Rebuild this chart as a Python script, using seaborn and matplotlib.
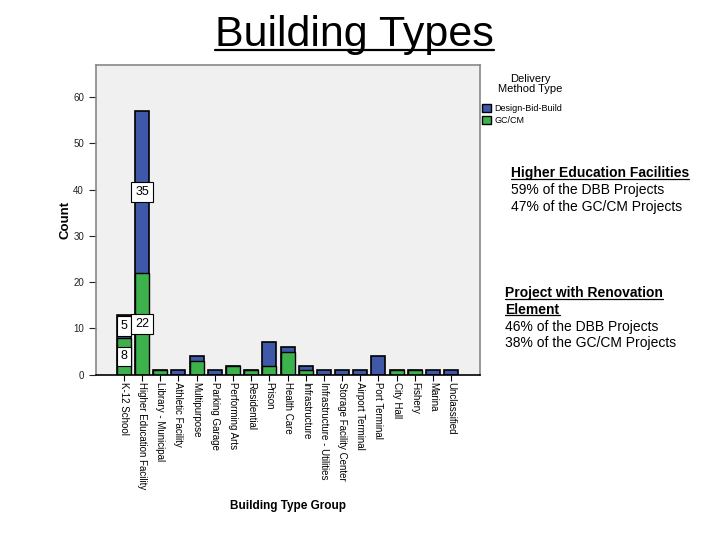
import pandas as pd
import matplotlib
matplotlib.use('Agg')
import matplotlib.pyplot as plt
import seaborn as sns
from matplotlib.lines import Line2D
from matplotlib.patches import Patch

# Data
building_types = ['K-12 School', 'Higher Education Facility', 'Library - Municipal',
                  'Athletic Facility', 'Multipurpose', 'Parking Garage', 'Performing Arts',
                  'Residential', 'Prison', 'Health Care', 'Infrastructure',
                  'Infrastructure - Utilities', 'Storage Facility Center', 'Airport Terminal',
                  'Port Terminal', 'City Hall', 'Fishery', 'Marina', 'Unclassified']
gccm = [8, 22, 1, 0, 3, 0, 2, 1, 2, 5, 1, 0, 0, 0, 0, 1, 1, 0, 0]
dbb = [5, 35, 0, 1, 1, 1, 0, 0, 5, 1, 1, 1, 1, 1, 4, 0, 0, 1, 1]
labelled = ['K-12 School', 'Higher Education Facility']

blue = '#3f58a8'
green = '#3db14c'

sns.set_style('white')
plt.rcParams['font.family'] = ['Liberation Sans', 'DejaVu Sans']
plt.rcParams['text.color'] = 'black'
plt.rcParams['axes.labelcolor'] = 'black'
plt.rcParams['xtick.color'] = 'black'
plt.rcParams['ytick.color'] = 'black'

df = pd.DataFrame({'Building Type Group': building_types, 'GC/CM': gccm, 'DBB': dbb})
df['Total'] = df['GC/CM'] + df['DBB']

fig = plt.figure(figsize=(7.2, 5.4), dpi=100)
ax = fig.add_axes([0.133, 0.306, 0.534, 0.574])
ax.set_facecolor('#f0f0f0')

# stacked look: total in blue, GC/CM in green drawn on top
sns.barplot(data=df, x='Building Type Group', y='Total', order=building_types,
            color=blue, saturation=1, width=0.77, edgecolor='black', linewidth=1.2, ax=ax)
sns.barplot(data=df[df['GC/CM'] > 0], x='Building Type Group', y='GC/CM', order=building_types,
            color=green, saturation=1, width=0.77, edgecolor='black', linewidth=1.0, ax=ax)

# value boxes
for name in labelled:
    i = building_types.index(name)
    g = df.loc[i, 'GC/CM']
    d = df.loc[i, 'DBB']
    box = dict(boxstyle='square,pad=0.3', fc='white', ec='black', lw=0.8)
    ax.text(i, g / 2, str(g), ha='center', va='center', fontsize=9, bbox=box)
    ax.text(i, g + d / 2, str(d), ha='center', va='center', fontsize=9, bbox=box)

ax.set_xlim(-1.55, len(building_types) + 0.6)
ax.set_ylim(0, 67)
ax.set_yticks(range(0, 61, 10))
ax.tick_params(axis='y', labelsize=7, length=5, direction='out', left=True, colors='#222222')
ax.tick_params(axis='x', labelsize=7, length=4, direction='out', bottom=True, pad=1)
ax.set_xticks(range(len(building_types)))
ax.set_xticklabels(building_types, rotation=-90, va='top', ha='center')
ax.set_xlabel('Building Type Group', fontsize=8.5, fontweight='bold', labelpad=8)
ax.set_ylabel('Count', fontsize=9.5, fontweight='bold', labelpad=1)
for s in ax.spines.values():
    s.set_color('#888888')
    s.set_linewidth(1.2)
ax.spines['bottom'].set_color('black')

handles = [Patch(facecolor=blue, edgecolor='black', label='Design-Bid-Build'),
           Patch(facecolor=green, edgecolor='black', label='GC/CM')]
fig.text(0.737, 0.845, 'Delivery\nMethod Type', ha='center', va='center', fontsize=8,
         multialignment='center', linespacing=1.0)
fig.legend(handles=handles, loc='upper left', bbox_to_anchor=(0.665, 0.815),
           frameon=False, fontsize=6.5, handlelength=1.0, handleheight=1.0,
           handletextpad=0.3, borderaxespad=0, labelspacing=0.35)

title = fig.text(0.492, 0.935, 'Building Types', ha='center', va='center', fontsize=31)

fs = 10
h1 = fig.text(0.71, 0.679, 'Higher Education Facilities', fontsize=fs, fontweight='bold',
              va='center')
fig.text(0.71, 0.648, '59% of the DBB Projects', fontsize=fs, va='center')
fig.text(0.71, 0.617, '47% of the GC/CM Projects', fontsize=fs, va='center')
h2a = fig.text(0.702, 0.457, 'Project with Renovation', fontsize=fs, fontweight='bold',
               va='center')
h2b = fig.text(0.702, 0.426, 'Element', fontsize=fs, fontweight='bold', va='center')
fig.text(0.702, 0.395, '46% of the DBB Projects', fontsize=fs, va='center')
fig.text(0.702, 0.364, '38% of the GC/CM Projects', fontsize=fs, va='center')

# underline title and headings
fig.canvas.draw()
renderer = fig.canvas.get_renderer()
for t, lw in [(title, 1.6), (h1, 0.9), (h2a, 0.9), (h2b, 0.9)]:
    bb = t.get_window_extent(renderer).transformed(fig.transFigure.inverted())
    y = bb.y0 + (bb.y1 - bb.y0) * 0.12
    fig.add_artist(Line2D([bb.x0, bb.x1], [y, y], color='black', lw=lw,
                          transform=fig.transFigure))

fig.savefig('out.png', dpi=100)
